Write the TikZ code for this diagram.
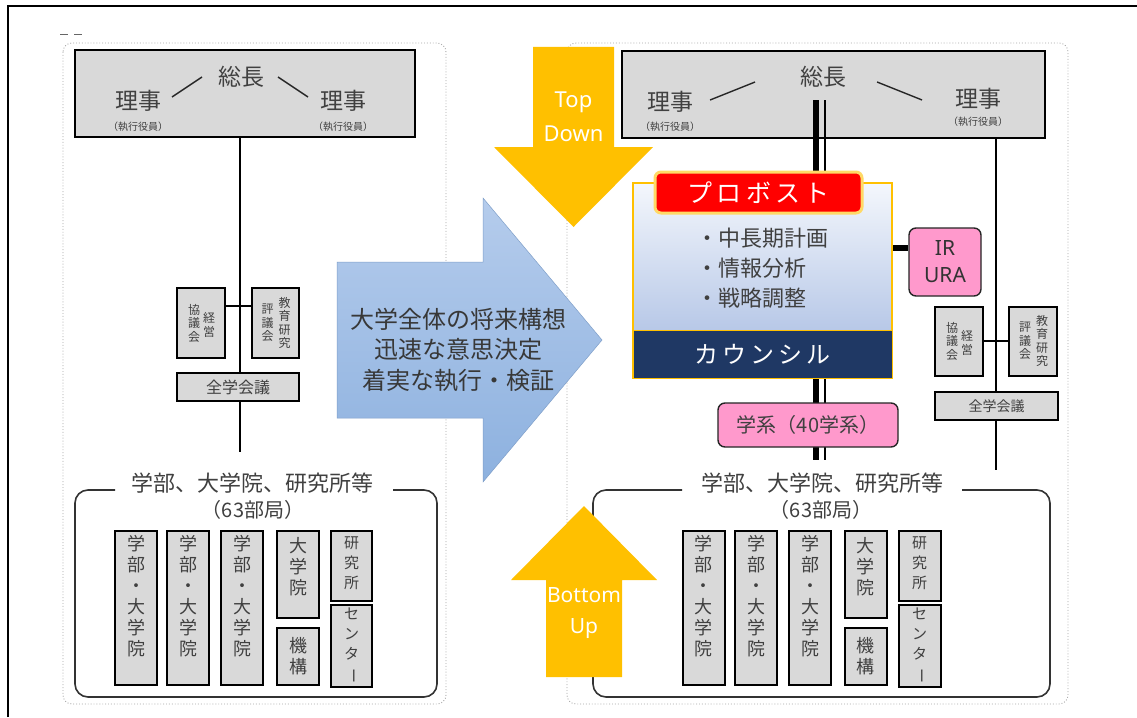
\documentclass[tikz,border=0pt]{standalone}
\usepackage{fontspec}
\setmainfont{Noto Sans}
\newfontfamily\jp{Noto Sans CJK JP}
\newcommand{\setfs}[2]{\fontsize{#1}{#2}\selectfont}
\newcommand{\vbar}{\rotatebox[origin=c]{-90}{ー}}
\definecolor{boxgray}{HTML}{D9D9D9}
\definecolor{txtgray}{HTML}{404040}
\definecolor{framegray}{HTML}{A6A6A6}
\definecolor{gold}{HTML}{FFC000}
\definecolor{navy}{HTML}{1F3864}
\definecolor{pinkc}{HTML}{FF99CC}
\definecolor{redc}{HTML}{FF0000}
\definecolor{glow}{HTML}{FFD966}
\definecolor{bluetop}{HTML}{B5CCEC}
\definecolor{bluebot}{HTML}{8DB1DF}
\definecolor{provtop}{HTML}{F4F7FC}
\definecolor{provbot}{HTML}{A4B9E1}
\begin{document}
\begin{tikzpicture}[x=1pt,y=-1pt,
  gbox/.style={draw=black, line width=2pt, fill=boxgray, inner sep=0pt},
  jt/.style={text=txtgray, inner sep=0pt},
  dotframe/.style={draw=framegray, line width=0.9pt, dotted, rounded corners=9pt},
  bracket/.style={draw=black!80, line width=1.6pt, rounded corners=13pt},
  thinline/.style={draw=black, line width=1.2pt},
  diag/.style={draw=black!85, line width=1.4pt},
  dblA/.style={draw=black, line width=6pt},
  dblB/.style={draw=black, line width=2pt},
  wtxt/.style={text=white, inner sep=0pt},
  pinkbox/.style={draw=black!85, line width=1.4pt, fill=pinkc, rounded corners=7pt, inner sep=0pt},
  vt/.style={jt, align=center, font=\jp\setfs{18}{21}},
  vts/.style={jt, align=center, font=\jp\setfs{15}{20}},
  vtc/.style={jt, align=center, font=\jp\setfs{12}{13.5}},
]
\useasboundingbox (0,0) rectangle (1137,717);
\fill[white] (0,0) rectangle (1137,717);

% outer frame
\coordinate (OF1) at (8,717);
\coordinate (OF2) at (8,6);
\coordinate (OF3) at (1137,6);
\draw[black, line width=1.5pt] (OF1) -- (OF2) -- (OF3);
\coordinate (dm1) at (60,35); \coordinate (dm2) at (68,35);
\coordinate (dm3) at (74,35); \coordinate (dm4) at (82,35);
\draw[black!60, line width=1pt] (dm1) -- (dm2) (dm3) -- (dm4);

% dotted panel frames
\draw[dotframe] (63,43) rectangle (446,704);
\draw[dotframe] (567,43) rectangle (1068,704);

% ================= LEFT PANEL =================
\coordinate (LVend) at (240,452);
\node[gbox, minimum width=340, minimum height=87] (LTop) at (245,93.5) {};
\draw[thinline] (LTop.south -| LVend) -- (LVend);

\node[jt, font=\jp\setfs{23}{23}] (LPres) at (241,77) {総長};
\node[jt, font=\jp\setfs{23}{23}] (LDir1) at (138,101) {理事};
\node[jt, font=\jp\setfs{10}{10}] (LEx1) at (138,127) {（執行役員）};
\node[jt, font=\jp\setfs{23}{23}] (LDir2) at (343,101) {理事};
\node[jt, font=\jp\setfs{10}{10}] (LEx2) at (343,127) {（執行役員）};
\coordinate (la1) at (172,97); \coordinate (la2) at (202,77);
\coordinate (la3) at (278,77); \coordinate (la4) at (308,97);
\draw[diag] (la1) -- (la2);
\draw[diag] (la3) -- (la4);

\node[gbox, minimum width=48, minimum height=70] (LKE) at (201,323) {};
\node[gbox, minimum width=47, minimum height=70] (LKK) at (275.5,323) {};
\draw[thinline] ([yshift=17pt]LKE.east) -- ([yshift=17pt]LKK.west);
\node[vtc] at ([xshift=8pt,yshift=-2pt]LKE.center) {経\\営};
\node[vtc] at ([xshift=-7pt]LKE.center) {協\\議\\会};
\node[vtc] at ([xshift=9pt]LKK.center) {教\\育\\研\\究};
\node[vtc] at ([xshift=-8pt]LKK.center) {評\\議\\会};
\node[gbox, minimum width=122, minimum height=28] (LZG) at (238,387) {};
\node[jt, font=\jp\setfs{16}{16}] at (LZG) {全学会議};

% bottom bracket left
\coordinate (LBa) at (115,490); \coordinate (LBb) at (393,490);
\draw[bracket] (LBa) -- (75,490) -- (75,697) -- (437,697) -- (437,490) -- (LBb);
\node[jt, font=\jp\setfs{22}{22}] (LBt) at (252,483) {学部、大学院、研究所等};
\node[jt, font=\jp\setfs{20}{20}] (LBn) at (253,510) {（63部局）};

\node[gbox, minimum width=42, minimum height=154] (L1) at (136,608) {};
\node[gbox, minimum width=42, minimum height=154] (L2) at (188,608) {};
\node[gbox, minimum width=42, minimum height=154] (L3) at (242,608) {};
\node[gbox, minimum width=42, minimum height=87] (L4) at (298,574.5) {};
\node[gbox, minimum width=42, minimum height=57] (L4b) at (298,656.5) {};
\node[gbox, minimum width=41, minimum height=70] (L5) at (351.5,566) {};
\node[gbox, minimum width=41, minimum height=82] (L5b) at (351.5,646) {};
\node[vt, anchor=north] at ([yshift=-5pt]L1.north) {学\\部\\・\\大\\学\\院};
\node[vt, anchor=north] at ([yshift=-5pt]L2.north) {学\\部\\・\\大\\学\\院};
\node[vt, anchor=north] at ([yshift=-5pt]L3.north) {学\\部\\・\\大\\学\\院};
\node[vt, anchor=north] at ([yshift=-7pt]L4.north) {大\\学\\院};
\node[vt] at (L4b) {機\\構};
\node[vts, anchor=north] at ([yshift=-7pt]L5.north) {研\\究\\所};
\node[vts] at (L5b) {セ\\ン\\タ\\\vbar};

% ================= RIGHT PANEL =================
\coordinate (RVend) at (996,470);
\node[gbox, minimum width=423, minimum height=87] (RTop) at (833.5,94.5) {};
\draw[thinline] (RTop.south -| RVend) -- (RVend);

\node[jt, font=\jp\setfs{23}{23}] (RPres) at (823,77) {総長};
\node[jt, font=\jp\setfs{23}{23}] (RDir1) at (670,102) {理事};
\node[jt, font=\jp\setfs{10}{10}] (REx1) at (670,127) {（執行役員）};
\node[jt, font=\jp\setfs{23}{23}] (RDir2) at (978,99) {理事};
\node[jt, font=\jp\setfs{10}{10}] (REx2) at (978,122) {（執行役員）};
\coordinate (ra1) at (710,100); \coordinate (ra2) at (755,82);
\coordinate (ra3) at (877,82); \coordinate (ra4) at (922,100);
\draw[diag] (ra1) -- (ra2);
\draw[diag] (ra3) -- (ra4);

% double line (behind)
\coordinate (dA1) at (816,100); \coordinate (dB1) at (824.5,100);
\coordinate (dA2) at (816,460); \coordinate (dB2) at (824.5,460);
\draw[dblA] (dA1) -- (dA2);
\draw[dblB] (dB1) -- (dB2);

% provost container
\node[draw=gold, line width=2pt, top color=provtop, bottom color=provbot,
      minimum width=259, minimum height=195, inner sep=0pt] (PC) at (762.5,280.5) {};
\node[draw=glow, line width=3pt, fill=redc, rounded corners=6pt,
      minimum width=207, minimum height=41, inner sep=0pt] (PR) at (758.5,192.5) {};
\node[wtxt, font=\jp\setfs{25}{25}] at (PR) {プ\,ロ\,ボ\,ス\,ト};
\node[fill=navy, draw=gold, line width=1pt, minimum width=259, minimum height=48, inner sep=0pt] (CN) at (762.5,354) {};
\node[wtxt, font=\jp\setfs{24}{24}] at (CN) {カ\,ウ\,ン\,シ\,ル};
\node[jt, font=\jp\setfs{22}{30}, align=left, anchor=north west] (PB) at (696,228) {・中長期計画\\・情報分析\\・戦略調整};

% IR URA
\node[pinkbox, minimum width=72, minimum height=68] (IR) at (945,262) {};
\node[text=black!80, font=\setfs{21}{27}, align=center, inner sep=0pt] at (IR) {IR\\URA};
\draw[dblA] (PC.east |- 0,248) -- (IR.west |- 0,248);

% 学系
\node[pinkbox, minimum width=180, minimum height=44] (GK) at (808,425) {};
\node[jt, font=\jp\setfs{20}{20}] at (GK) {学系（40学系）};

% right councils
\node[gbox, minimum width=48, minimum height=69] (RKE) at (959,341) {};
\node[gbox, minimum width=48, minimum height=69] (RKK) at (1033,341) {};
\draw[thinline] (RKE.east) -- (RKK.west);
\node[vtc] at ([xshift=8pt,yshift=-2pt]RKE.center) {経\\営};
\node[vtc] at ([xshift=-7pt]RKE.center) {協\\議\\会};
\node[vtc] at ([xshift=9pt]RKK.center) {教\\育\\研\\究};
\node[vtc] at ([xshift=-8pt]RKK.center) {評\\議\\会};
\node[gbox, minimum width=123, minimum height=28] (RZG) at (996.5,406) {};
\node[jt, font=\jp\setfs{14}{14}] at (RZG) {全学会議};

% bottom bracket right
\coordinate (RBa) at (682,490); \coordinate (RBb) at (962,490);
\draw[bracket] (RBa) -- (593,490) -- (593,697) -- (1050,697) -- (1050,490) -- (RBb);
\node[jt, font=\jp\setfs{22}{22}] (RBt) at (822,483) {学部、大学院、研究所等};
\node[jt, font=\jp\setfs{20}{20}] (RBn) at (821,510) {（63部局）};

\node[gbox, minimum width=42, minimum height=154] (R1) at (703.5,608) {};
\node[gbox, minimum width=42, minimum height=154] (R2) at (756,608) {};
\node[gbox, minimum width=42, minimum height=154] (R3) at (810,608) {};
\node[gbox, minimum width=42, minimum height=87] (R4) at (865.5,574.5) {};
\node[gbox, minimum width=42, minimum height=57] (R4b) at (865.5,656.5) {};
\node[gbox, minimum width=42, minimum height=70] (R5) at (919.5,566) {};
\node[gbox, minimum width=42, minimum height=82] (R5b) at (919.5,646) {};
\node[vt, anchor=north] at ([yshift=-5pt]R1.north) {学\\部\\・\\大\\学\\院};
\node[vt, anchor=north] at ([yshift=-5pt]R2.north) {学\\部\\・\\大\\学\\院};
\node[vt, anchor=north] at ([yshift=-5pt]R3.north) {学\\部\\・\\大\\学\\院};
\node[vt, anchor=north] at ([yshift=-7pt]R4.north) {大\\学\\院};
\node[vt] at (R4b) {機\\構};
\node[vts, anchor=north] at ([yshift=-7pt]R5.north) {研\\究\\所};
\node[vts] at (R5b) {セ\\ン\\タ\\\vbar};

% ================= ARROWS =================
% blue arrow
\shade[top color=bluetop, bottom color=bluebot, draw=bluebot!90!black, line width=0.5pt]
  (337,262) -- (483,262) -- (483,198) -- (602,340) -- (483,482) -- (483,418) -- (337,418) -- cycle;
\node[text=black!78, font=\jp\setfs{24}{30.5}, align=center, inner sep=0pt] (BT) at (458,350)
  {大学全体の将来構想\\迅速な意思決定\\着実な執行・検証};

% top down
\fill[gold] (533,47) -- (614,47) -- (614,147) -- (653,147) -- (573.5,227) -- (494,147) -- (533,147) -- cycle;
\node[wtxt, font=\setfs{22}{34}, align=center] (TD) at (573.5,117) {Top\\Down};

% bottom up
\fill[gold] (546,677) -- (622,677) -- (622,580) -- (657,580) -- (584,506) -- (511,580) -- (546,580) -- cycle;
\node[wtxt, font=\setfs{21}{31}, align=center] (BU) at (584,613) {Bottom\\Up};
\end{tikzpicture}
\end{document}
